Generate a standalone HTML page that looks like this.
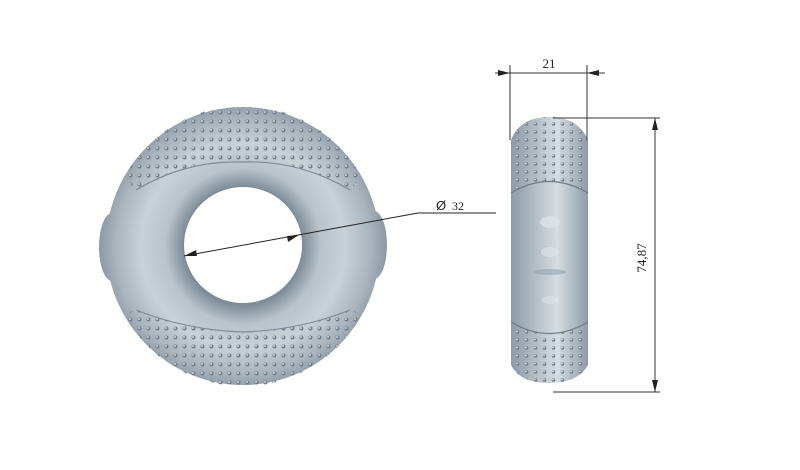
<!DOCTYPE html>
<html><head><style>html,body{margin:0;padding:0;background:#fff}svg{display:block}</style></head>
<body>
<svg width="800" height="470" viewBox="0 0 800 470" xmlns="http://www.w3.org/2000/svg">
<defs>
<radialGradient id="rg" cx="243" cy="246" r="142" gradientUnits="userSpaceOnUse">
<stop offset="0.42" stop-color="#7f8d98"/><stop offset="0.55" stop-color="#b9c3cb"/><stop offset="0.72" stop-color="#c9d1d8"/><stop offset="0.9" stop-color="#a9b4bd"/><stop offset="1" stop-color="#8f9ba6"/>
</radialGradient>
<linearGradient id="sg" x1="0" x2="1" y1="0" y2="0">
<stop offset="0" stop-color="#8e9aa5"/><stop offset="0.45" stop-color="#c3ccd3"/><stop offset="0.6" stop-color="#d6dde2"/><stop offset="1" stop-color="#8f9ba6"/>
</linearGradient>
<pattern id="dots" width="9" height="9" patternUnits="userSpaceOnUse"><circle cx="4.5" cy="4.5" r="2" fill="#73808b"/><circle cx="4" cy="4" r="0.9" fill="#e4e9ed"/></pattern>
<pattern id="sdots" width="9" height="8" patternUnits="userSpaceOnUse"><circle cx="4.5" cy="4" r="1.8" fill="#75818c"/><circle cx="4" cy="3.5" r="0.8" fill="#e6ebef"/></pattern>
<clipPath id="topc"><path d="M124 178 A135 137 0 0 1 362 178 L350 190 Q300 160 243 162 Q186 160 136 190 Z"/></clipPath>
<clipPath id="botc"><path d="M124 314 A135 137 0 0 0 362 314 L350 310 Q300 330 243 332 Q186 330 136 310 Z"/></clipPath>
</defs>
<g fill="url(#rg)">
<ellipse cx="112" cy="247" rx="13" ry="34"/>
<ellipse cx="374" cy="245" rx="13" ry="34"/>
</g>
<path fill="url(#rg)" fill-rule="evenodd" d="M243 107 A137 139 0 1 1 242.9 107 Z M243 187 A59 58 0 1 0 243.1 187 Z"/>
<rect x="100" y="100" width="290" height="110" fill="url(#dots)" clip-path="url(#topc)"/>
<rect x="100" y="290" width="290" height="110" fill="url(#dots)" clip-path="url(#botc)"/>
<path d="M136 190 Q186 160 243 162 Q300 160 350 190" fill="none" stroke="#7f8b96" stroke-width="1.2"/>
<path d="M136 310 Q186 330 243 332 Q300 330 350 310" fill="none" stroke="#7f8b96" stroke-width="1.2"/>
<path d="M184 256 L418 213 L496 213" stroke="#222" stroke-width="1" fill="none"/>
<path d="M184 256 L196 250 L197 256 Z M299 235 L287 236 L288 242 Z" fill="#222"/>
<text x="436" y="210" font-family="Liberation Sans, sans-serif" font-size="13" fill="#222">Ø</text>
<text x="452" y="210" font-family="Liberation Serif, serif" font-size="12" fill="#222">32</text>
<path d="M511 140 Q520 117 549 117 Q578 117 588 140 L588 365 Q578 383 549 383 Q520 383 511 365 Z" fill="url(#sg)"/>
<path d="M511 140 Q520 117 549 117 Q578 117 588 140 L588 193 Q549 170 511 193 Z" fill="url(#sdots)"/>
<path d="M511 322 Q549 345 588 322 L588 365 Q578 383 549 383 Q520 383 511 365 Z" fill="url(#sdots)"/>
<path d="M511 193 Q549 170 588 193 M511 322 Q549 345 588 322" stroke="#6f7b86" stroke-width="1.2" fill="none"/>
<ellipse cx="550" cy="222" rx="10" ry="6" fill="#dfe5ea" opacity="0.7"/>
<ellipse cx="550" cy="252" rx="9" ry="5" fill="#dfe5ea" opacity="0.6"/>
<ellipse cx="550" cy="272" rx="16" ry="3" fill="#8c98a3" opacity="0.5"/>
<ellipse cx="550" cy="300" rx="9" ry="4" fill="#dfe5ea" opacity="0.5"/>
<g stroke="#333" stroke-width="1" fill="none">
<path d="M510 65 L510 140 M587 65 L587 140 M495 73 L605 73"/>
<path d="M553 118 L660 118 M553 392 L660 392 M655 118 L655 392"/>
</g>
<path d="M510 73 L498 70 L498 76 Z M587 73 L599 70 L599 76 Z M655 118 L652 130 L658 130 Z M655 392 L652 380 L658 380 Z" fill="#222"/>
<text x="549" y="68" text-anchor="middle" font-family="Liberation Serif, serif" font-size="13" fill="#222">21</text>
<text transform="translate(646,258) rotate(-90)" text-anchor="middle" font-family="Liberation Serif, serif" font-size="13" fill="#222">74,87</text>
</svg>
</body></html>
